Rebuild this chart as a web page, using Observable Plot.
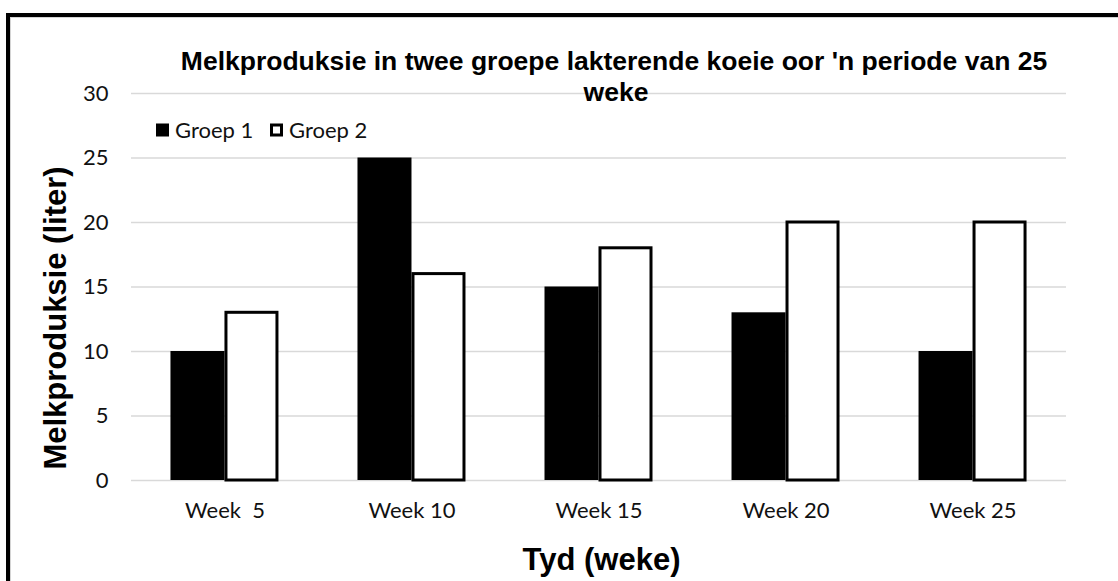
<!DOCTYPE html>
<html>
<head>
<meta charset="utf-8">
<script src="https://cdn.jsdelivr.net/npm/d3@7"></script>
<script src="https://cdn.jsdelivr.net/npm/@observablehq/plot@0.6"></script>
<style>
  html, body { margin: 0; padding: 0; background: #fff; overflow: hidden; }
  #wrap { position: relative; width: 1118px; height: 581px; overflow: hidden; }
  #frame { position: absolute; left: 6px; top: 13px; width: 1400px; height: 900px; border: 4px solid #000; }
  #inner { position: absolute; left: 0; top: 0; right: 0; bottom: 0; border-left: 1px solid #d4d4d4; border-top: 1px solid #d4d4d4; }
  #chart { position: absolute; left: 0; top: 0; }
  #overlay { position: absolute; left: 0; top: 0; }
  svg text { white-space: pre; }
</style>
</head>
<body>
<div id="wrap">
  <div id="frame"><div id="inner"></div></div>
  <div id="chart"></div>
  <svg id="overlay" width="1118" height="581"></svg>
</div>
<script>
const titleLines = ["Melkproduksie in twee groepe lakterende koeie oor 'n periode van 25", "weke"];
const yLabel = "Melkproduksie (liter)";
const xLabel = "Tyd (weke)";
const weeks = ["Week  5", "Week 10", "Week 15", "Week 20", "Week 25"];
const groups = ["Groep 1", "Groep 2"];
const groep1 = [10, 25, 15, 13, 10];
const groep2 = [13, 16, 18, 20, 20];
const yTicks = [0, 5, 10, 15, 20, 25, 30];

const d1 = weeks.map((w, i) => ({week: w, value: groep1[i]}));
const d2 = weeks.map((w, i) => ({week: w, value: groep2[i]}));

const chart = Plot.plot({
  width: 1118,
  height: 581,
  marginLeft: 131,
  marginRight: 52,
  marginTop: 93,
  marginBottom: 101,
  style: {fontFamily: "Lato", fontSize: "22px", color: "#111", background: "transparent", overflow: "visible"},
  x: {domain: weeks, paddingInner: 0.4225, paddingOuter: 0.211, round: false},
  y: {domain: [0, 30]},
  marks: [
    Plot.ruleY(yTicks, {stroke: "#d9d9d9", strokeWidth: 1.5}),
    Plot.barY(d1, {x: "week", y: "value", fill: "#000", insetRight: 54}),
    Plot.barY(d2, {x: "week", y: "value", fill: "#fff", stroke: "#000", strokeWidth: 3, insetLeft: 55.5, insetRight: 1.5}),
    Plot.axisY({ticks: yTicks, tickSize: 0, tickPadding: 23, label: null, fontSize: 22}),
    Plot.axisX({tickSize: 0, tickPadding: 22, label: null, fontSize: 22})
  ]
});
document.getElementById("chart").append(chart);

const ov = d3.select("#overlay");
// Title
const t = ov.append("text")
  .attr("text-anchor", "middle")
  .attr("font-family", "Liberation Sans, Arial, sans-serif")
  .attr("font-weight", "bold")
  .attr("font-size", 26.5)
  .attr("fill", "#000");
t.selectAll("tspan").data(titleLines).join("tspan")
  .attr("x", (d, i) => i === 0 ? 614 : 616)
  .attr("y", (d, i) => 69.5 + i * 31.5)
  .text(d => d);

// Y label
ov.append("text")
  .attr("transform", "translate(65.5,318) rotate(-90)")
  .attr("text-anchor", "middle")
  .attr("font-family", "Liberation Sans, Arial, sans-serif")
  .attr("font-weight", "bold")
  .attr("font-size", 31)
  .attr("fill", "#000")
  .text(yLabel);

// X label
ov.append("text")
  .attr("x", 601.5)
  .attr("y", 570)
  .attr("text-anchor", "middle")
  .attr("font-family", "Liberation Sans, Arial, sans-serif")
  .attr("font-weight", "bold")
  .attr("font-size", 31)
  .attr("fill", "#000")
  .text(xLabel);

// Legend
const legX = [156, 270];
groups.forEach((g, i) => {
  if (i === 0) {
    ov.append("rect").attr("x", legX[i]).attr("y", 123.5).attr("width", 13).attr("height", 13).attr("fill", "#000");
  } else {
    ov.append("rect").attr("x", legX[i] + 1.5).attr("y", 125).attr("width", 10).attr("height", 10)
      .attr("fill", "#fff").attr("stroke", "#000").attr("stroke-width", 3);
  }
  ov.append("text")
    .attr("x", legX[i] + 19)
    .attr("y", 138)
    .attr("font-family", "Lato, sans-serif")
    .attr("font-size", 22)
    .attr("fill", "#111")
    .text(g);
});
</script>
</body>
</html>
